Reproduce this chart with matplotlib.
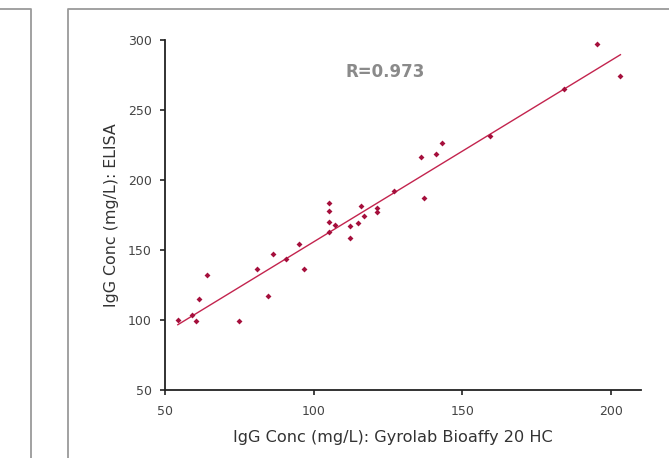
import matplotlib
matplotlib.use('Agg')
import matplotlib.pyplot as plt
from matplotlib.lines import Line2D

# values
gyrolab = [54.4, 59.3, 60.4, 61.4, 64.1, 75.1, 80.9, 84.8, 86.5, 90.7, 95.1,
           96.9, 105.2, 105.2, 105.2, 105.2, 107.2, 112.1, 112.1, 115.0, 116.0,
           117.1, 121.2, 121.2, 127.1, 136.1, 137.1, 141.0, 143.2, 159.2, 184.0,
           195.1, 203.0]
elisa = [100.3, 104.1, 99.4, 115.3, 132.2, 99.4, 136.4, 117.4, 147.4, 143.6,
         154.4, 136.4, 183.5, 178.2, 170.2, 163.3, 168.3, 167.3, 158.6, 169.3,
         181.4, 174.2, 180.2, 177.1, 192.3, 216.3, 187.3, 218.5, 226.3, 231.5,
         265.3, 297.4, 274.3]
trend_x = [54.4, 203.1]
trend_y = [96.9, 289.5]
r_label = 'R=0.973'
x_ticks = [50, 100, 150, 200]
y_ticks = [50, 100, 150, 200, 250, 300]

fig = plt.figure(figsize=(6.69, 4.58), dpi=100)
ax = fig.add_axes([0.2462, 0.1474, 0.7119, 0.7653])

ax.plot(trend_x, trend_y, color='#C3244E', linewidth=1.0, zorder=2)
ax.scatter(gyrolab, elisa, marker='D', s=9, color='#A50F3C', linewidths=0, zorder=3)

ax.text(124.1, 277.2, r_label, fontsize=12, fontweight='bold', color='#8a8a8a',
        ha='center', va='center')

ax.set_xlim(50, 210)
ax.set_ylim(50, 300)
ax.set_xticks(x_ticks)
ax.set_yticks(y_ticks)
ax.tick_params(axis='both', direction='out', length=3.5, width=1.2, color='#222222',
               labelsize=9, labelcolor='#444444')
ax.tick_params(axis='x', pad=7)
ax.tick_params(axis='y', pad=6)

for side in ['top', 'right']:
    ax.spines[side].set_visible(False)
for side in ['left', 'bottom']:
    ax.spines[side].set_linewidth(1.3)
    ax.spines[side].set_color('#222222')

ax.set_xlabel('IgG Conc (mg/L): Gyrolab Bioaffy 20 HC', fontsize=11.6, color='#333333')
ax.set_ylabel('IgG Conc (mg/L): ELISA', fontsize=11.4, color='#333333')
ax.xaxis.set_label_coords(0.479, -0.113)
ax.yaxis.set_label_coords(-0.096, 0.5)

# panel frames around the chart
W, H = 669, 458
frame = dict(color='#9a9a9a', linewidth=1.3)
fig.add_artist(Line2D([0, 30.7 / W, 30.7 / W], [1 - 9.3 / H, 1 - 9.3 / H, 0], **frame))
fig.add_artist(Line2D([68.3 / W, 68.3 / W, 1], [0, 1 - 9.3 / H, 1 - 9.3 / H], **frame))

fig.savefig('out.png', dpi=100)
